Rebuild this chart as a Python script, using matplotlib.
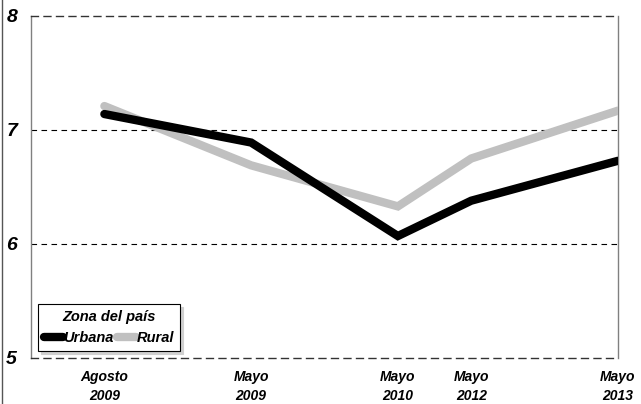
import matplotlib.pyplot as plt
from matplotlib.lines import Line2D

plt.rcParams['font.family'] = ['Liberation Sans', 'DejaVu Sans']

# survey rounds (position on a time-like axis) and labels
periodos = ['Agosto\n2009', 'Mayo\n2009', 'Mayo\n2010', 'Mayo\n2012', 'Mayo\n2013']
pos = [0, 1, 2, 2.5, 3.5]

urbana = [7.14, 6.89, 6.07, 6.38, 6.73]
rural = [7.21, 6.69, 6.33, 6.75, 7.17]

y_ticks = [5, 6, 7, 8]

fig = plt.figure(figsize=(6.41, 4.04), dpi=100)
ax = fig.add_axes([31 / 641, 1 - 358 / 404, (618 - 31) / 641, (358 - 16) / 404])

ax.plot(pos, rural, color='#c0c0c0', lw=6, solid_capstyle='round', solid_joinstyle='miter',
        label='Rural', zorder=3)
ax.plot(pos, urbana, color='black', lw=6, solid_capstyle='round', solid_joinstyle='miter',
        label='Urbana', zorder=4)

ax.set_xlim(-0.5, 3.5)
ax.set_ylim(5, 8)
ax.set_yticks(y_ticks)
ax.set_yticklabels([str(t) for t in y_ticks], fontsize=14, fontweight='bold', style='italic')
ax.set_xticks(pos)
ax.set_xticklabels(periodos, fontsize=10, fontweight='bold', style='italic', linespacing=1.45)
ax.tick_params(axis='x', length=0, pad=9)
ax.tick_params(axis='y', length=0, pad=10)

for y in [6, 7]:
    ax.axhline(y, color='black', lw=0.8, ls=(0, (5, 4)), zorder=1)

ax.spines['top'].set_linestyle((0, (5, 4)))
ax.spines['bottom'].set_linestyle((0, (5, 4)))
for s in ['top', 'bottom']:
    ax.spines[s].set_color('#333333')
    ax.spines[s].set_linewidth(1)
for s in ['left', 'right']:
    ax.spines[s].set_color('#808080')
    ax.spines[s].set_linewidth(1)

handles = [Line2D([], [], color='black', lw=6, solid_capstyle='round'),
           Line2D([], [], color='#c0c0c0', lw=6, solid_capstyle='round')]
leg = ax.legend(handles, ['Urbana', 'Rural'], title='Zona del país', ncol=2,
                loc='lower left', bbox_to_anchor=(0.012, 0.02),
                prop={'size': 10.5, 'weight': 'bold', 'style': 'italic'},
                title_fontproperties={'size': 10.5, 'weight': 'bold', 'style': 'italic'},
                handlelength=1.3, handletextpad=0.05, columnspacing=0.2,
                frameon=True, fancybox=False, shadow={'color': '#d0d0d0', 'alpha': 1},
                borderpad=0.4, borderaxespad=0)
leg.get_frame().set_edgecolor('black')
leg.get_frame().set_linewidth(0.8)

fig.add_artist(Line2D([1.5 / 641, 1.5 / 641], [0, 1], color='#555555', lw=1))

fig.savefig('out.png', dpi=100)
